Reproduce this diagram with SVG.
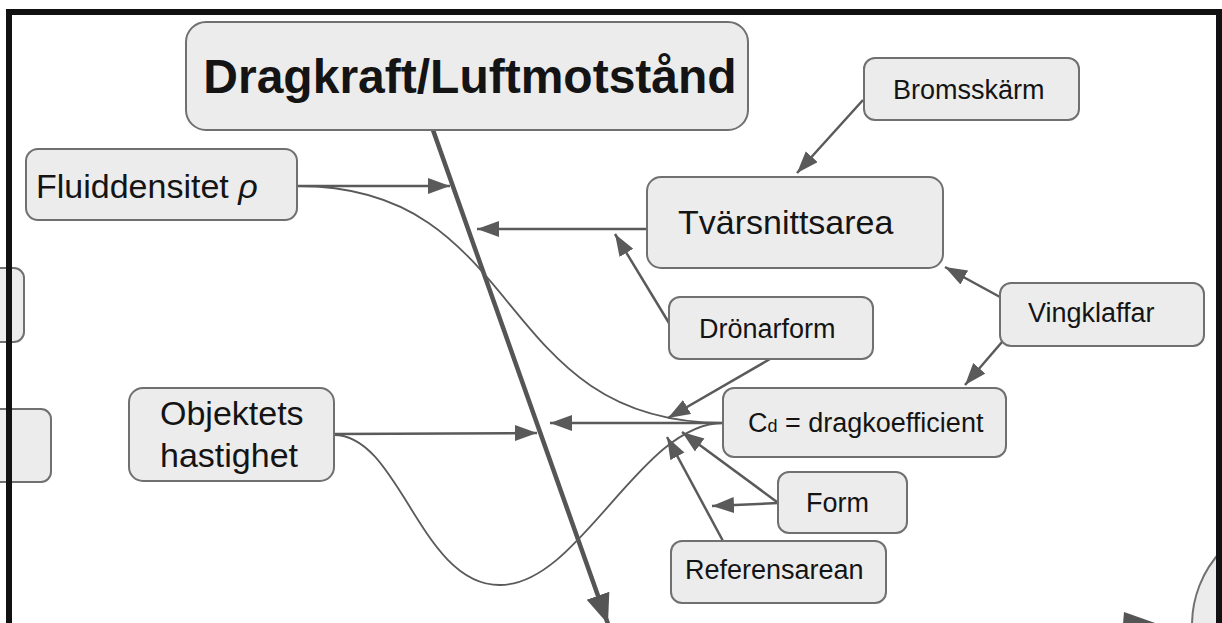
<svg xmlns="http://www.w3.org/2000/svg" width="1222" height="623" viewBox="0 0 1222 623">
<defs>
<style>
.box{fill:#ececec;stroke:#707070;stroke-width:2}
.t{font-family:"Liberation Sans",Arial,sans-serif;fill:#141414}
.big{font-size:48px;font-weight:bold}
.med{font-size:34px}
.sm{font-size:27px}
.c{fill:none;stroke:#5a5a5a;stroke-width:2.5}
.cv{fill:none;stroke:#5a5a5a;stroke-width:1.8}
.thick{fill:none;stroke:#555;stroke-width:4.5}
</style>
<marker id="ah" markerUnits="userSpaceOnUse" markerWidth="24" markerHeight="18" refX="22" refY="8" orient="auto">
<path d="M0,0 L22,8 L0,16 z" fill="#5a5a5a"/>
</marker>
<marker id="ahb" markerUnits="userSpaceOnUse" markerWidth="32" markerHeight="26" refX="30" refY="12" orient="auto">
<path d="M0,0 L30,12 L0,24 z" fill="#555"/>
</marker>
</defs>
<rect x="0" y="0" width="1222" height="623" fill="#fff"/>

<g id="partial-left-1"><rect class="box" x="-60" y="268" width="84" height="74" rx="10"/></g>
<g id="partial-left-2"><rect class="box" x="-60" y="409" width="111" height="73" rx="10"/></g>
<g id="partial-ellipse"><circle class="box" cx="1300" cy="625" r="108"/></g>

<g id="connectors">
<line class="thick" x1="433" y1="130" x2="608" y2="624" marker-end="url(#ahb)"/>
<line class="c" x1="298" y1="186" x2="450" y2="186" marker-end="url(#ah)"/>
<path class="cv" d="M298,186 C528,186 491,423 723,423"/>
<line class="c" x1="647" y1="229" x2="477" y2="229" marker-end="url(#ah)"/>
<line class="c" x1="863" y1="100" x2="797" y2="173" marker-end="url(#ah)"/>
<line class="c" x1="669" y1="323" x2="615" y2="234" marker-end="url(#ah)"/>
<line class="c" x1="770" y1="359" x2="668" y2="418" marker-end="url(#ah)"/>
<line class="c" x1="1000" y1="297" x2="945" y2="267" marker-end="url(#ah)"/>
<line class="c" x1="1002" y1="342" x2="965" y2="385" marker-end="url(#ah)"/>
<line class="c" x1="723" y1="423" x2="550" y2="423" marker-end="url(#ah)"/>
<line class="c" x1="334" y1="434" x2="537" y2="433" marker-end="url(#ah)"/>
<path class="cv" d="M334,435 C400,435 420,585 500,585 C580,585 640,423 723,423"/>
<line class="c" x1="777" y1="502" x2="682" y2="432" marker-end="url(#ah)"/>
<line class="c" x1="778" y1="503" x2="712" y2="506" marker-end="url(#ah)"/>
<line class="c" x1="723" y1="541" x2="667" y2="437" marker-end="url(#ah)"/>
<polygon points="1124,612 1158,624 1122,636" fill="#555"/>
</g>

<g id="dragkraft">
<rect class="box" x="186" y="22" width="562" height="108" rx="20"/>
<text class="t big" x="470" y="93" text-anchor="middle">Dragkraft/Luftmotstånd</text>
</g>
<g id="fluiddensitet">
<rect class="box" x="26" y="149" width="271" height="71" rx="12"/>
<text class="t med" x="36" y="198">Fluiddensitet <tspan font-style="italic">ρ</tspan></text>
</g>
<g id="tvarsnittsarea">
<rect class="box" x="647" y="177" width="296" height="91" rx="14"/>
<text class="t med" x="678" y="234">Tvärsnittsarea</text>
</g>
<g id="bromsskarm">
<rect class="box" x="864" y="58" width="215" height="62" rx="11"/>
<text class="t sm" x="893" y="99">Bromsskärm</text>
</g>
<g id="dronarform">
<rect class="box" x="669" y="297" width="204" height="62" rx="11"/>
<text class="t sm" x="699" y="338">Drönarform</text>
</g>
<g id="vingklaffar">
<rect class="box" x="1000" y="283" width="204" height="63" rx="11"/>
<text class="t sm" x="1028" y="322">Vingklaffar</text>
</g>
<g id="cd">
<rect class="box" x="723" y="388" width="283" height="69" rx="11"/>
<text class="t sm" x="748" y="432">C<tspan font-size="18">d</tspan> = dragkoefficient</text>
</g>
<g id="form">
<rect class="box" x="778" y="472" width="129" height="61" rx="11"/>
<text class="t sm" x="806" y="512">Form</text>
</g>
<g id="referensarean">
<rect class="box" x="671" y="541" width="215" height="62" rx="11"/>
<text class="t sm" x="685" y="579">Referensarean</text>
</g>
<g id="objektets-hastighet">
<rect class="box" x="129" y="388" width="205" height="93" rx="14"/>
<text class="t med" x="160" y="425">Objektets</text>
<text class="t med" x="160" y="467">hastighet</text>
</g>

<rect x="9" y="12" width="1210" height="700" fill="none" stroke="#111" stroke-width="6"/>
</svg>
